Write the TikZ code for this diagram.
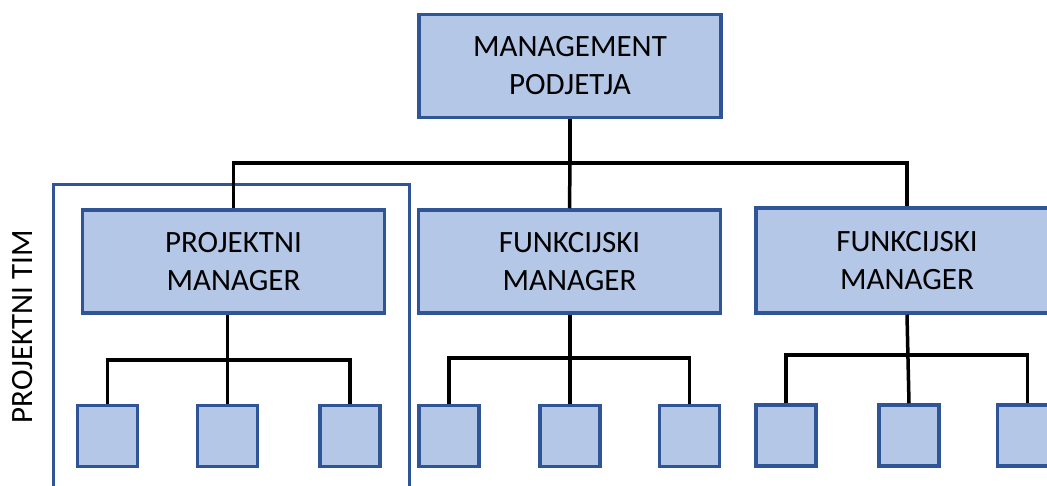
\documentclass[tikz,border=0pt]{standalone}
\usepackage{fontspec}
\setmainfont{Carlito}
\definecolor{boxfill}{HTML}{B4C7E7}
\definecolor{boxline}{HTML}{2F5597}
\tikzset{
  mgr/.style={draw=boxline, fill=boxfill, line width=3.5pt, minimum width=302pt, minimum height=103pt,
    inner sep=0pt, align=center, font=\fontsize{31}{38}\selectfont},
  leaf/.style={draw=boxline, fill=boxfill, line width=3.5pt, minimum width=60pt, minimum height=61pt, inner sep=0pt},
  conn/.style={line width=3.5pt, black},
  frame/.style={draw=boxline, line width=3pt}
}
\begin{document}
\begin{tikzpicture}[x=1pt,y=-1pt]
\useasboundingbox (0,0) rectangle (1047,486);
\clip (0,0) rectangle (1047,486);
% frame for project team
\draw[frame] (53,520) -- (53,185) -- (409,185) -- (409,520);
\node[rotate=90, font=\fontsize{31}{38}\selectfont] (tim) at (23,327) {PROJEKTNI TIM};
% managers
\node[mgr] (top) at (570,66) {MANAGEMENT\\PODJETJA};
\node[mgr] (pm) at (233.5,261.5) {PROJEKTNI\\MANAGER};
\node[mgr] (fm1) at (569.5,261.5) {FUNKCIJSKI\\MANAGER};
\node[mgr, minimum height=105pt] (fm2) at (907,260.5) {FUNKCIJSKI\\MANAGER};
% leaves
\node[leaf] (a1) at (107.5,436) {};
\node[leaf] (a2) at (227.5,436) {};
\node[leaf] (a3) at (350,436) {};
\node[leaf] (b1) at (449,436) {};
\node[leaf] (b2) at (570,436) {};
\node[leaf] (b3) at (689.5,436) {};
\node[leaf] (c1) at (786,435.5) {};
\node[leaf] (c2) at (909,435.5) {};
\node[leaf] (c3) at (1027.5,435.5) {};
% connectors
\coordinate (bus) at (570,163);
\draw[conn] (top.south) -- (bus);
\draw[conn] (pm.north) |- (bus) -| (fm2.north);
\draw[conn] (fm1.north) -- (bus);
\coordinate (ba) at (227.5,360);
\coordinate (bb) at (570,358);
\coordinate (bc) at (907,355);
\draw[conn] (pm.south -| ba) -- (a2.north);
\draw[conn] (a1.north) |- (ba) -| (a3.north);
\draw[conn] (fm1.south -| bb) -- (b2.north);
\draw[conn] (b1.north) |- (bb) -| (b3.north);
\draw[conn] (fm2.south) -- (c2.north);
\draw[conn] (c1.north) |- (bc) -| (c3.north);
\end{tikzpicture}
\end{document}
